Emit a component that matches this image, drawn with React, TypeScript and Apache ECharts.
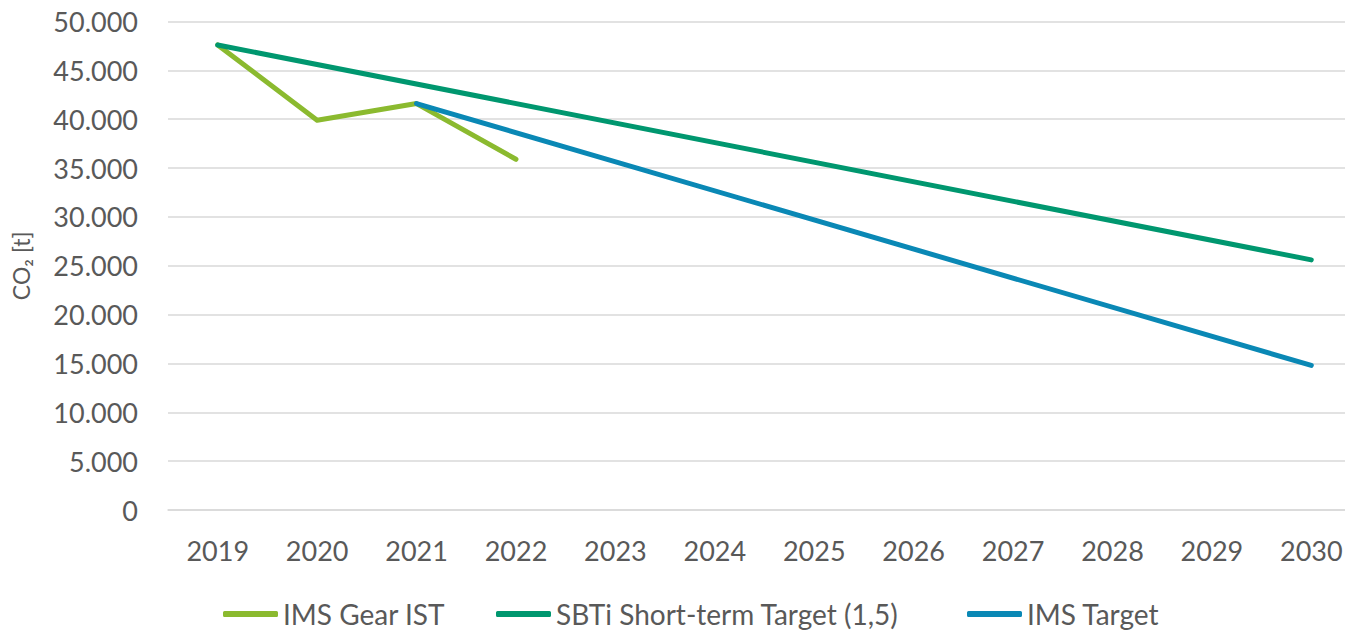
import React, { useEffect, useRef } from "react";
import * as echarts from "echarts";

const years = ["2019", "2020", "2021", "2022", "2023", "2024", "2025", "2026", "2027", "2028", "2029", "2030"];
const istValues = [47600, 39900, 41600, 35900, null, null, null, null, null, null, null, null];
const sbtiValues = [47600, null, null, null, null, null, null, null, null, null, null, 25600];
const targetValues = [null, null, 41600, null, null, null, null, null, null, null, null, 14800];
const seriesNames = ["IMS Gear IST", "SBTi Short-term Target (1,5)", "IMS Target"];
const colors = ["#8BBA2F", "#00976F", "#0A88B5"];

const FONT = "Lato";
const TXT = "#595959";

function fmt(v: number) {
  return String(v).replace(/\B(?=(\d{3})+(?!\d))/g, ".");
}

export default function App() {
  const ref = useRef<HTMLDivElement>(null);
  useEffect(() => {
    if (!ref.current) return;
    const chart = echarts.init(ref.current, undefined, { renderer: "svg" });
    const mk = (name: string, data: (number | null)[], color: string) => ({
      name,
      type: "line",
      data,
      connectNulls: true,
      symbol: "none",
      showSymbol: false,
      lineStyle: { color, width: 5, cap: "round", join: "round" },
      itemStyle: { color },
    });
    const legendLefts = [218, 491, 962];
    chart.setOption({
      animation: false,
      color: colors,
      textStyle: { fontFamily: FONT, color: TXT },
      grid: { left: 168, right: 0, top: 21.5, bottom: 121, containLabel: false },
      xAxis: {
        type: "category",
        data: years,
        boundaryGap: true,
        axisLine: { show: true, lineStyle: { color: "#D9D9D9", width: 1.5 } },
        axisTick: { show: false },
        axisLabel: { color: TXT, fontSize: 27, fontFamily: FONT, margin: 27 },
        splitLine: { show: false },
      },
      yAxis: {
        type: "value",
        min: 0,
        max: 50000,
        interval: 5000,
        name: "CO₂ [t]",
        nameLocation: "middle",
        nameGap: 136,
        nameRotate: 90,
        nameTextStyle: { color: TXT, fontSize: 23, fontFamily: FONT },
        axisLine: { show: false },
        axisTick: { show: false },
        axisLabel: { color: TXT, fontSize: 27, fontFamily: FONT, margin: 30, formatter: (v: number) => fmt(v) },
        splitLine: { show: true, lineStyle: { color: "#D9D9D9", width: 1.5 } },
      },
      legend: seriesNames.map((n, i) => ({
        data: [n],
        left: legendLefts[i],
        top: 595,
        icon: "roundRect",
        itemWidth: 55,
        itemHeight: 6,
        textStyle: { color: TXT, fontSize: 28, fontFamily: FONT },
      })),
      series: [
        mk(seriesNames[0], istValues, colors[0]),
        mk(seriesNames[1], sbtiValues, colors[1]),
        mk(seriesNames[2], targetValues, colors[2]),
      ],
    });
    return () => chart.dispose();
  }, []);
  return (
    <div
      ref={ref}
      style={{ position: "fixed", left: 0, top: 0, width: 1361, height: 631, background: "#fff" }}
    />
  );
}
